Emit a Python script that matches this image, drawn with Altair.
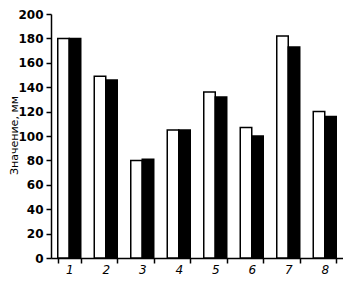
import altair as alt
import pandas as pd

categories = ["1", "2", "3", "4", "5", "6", "7", "8"]
series_white = [180, 149, 80, 105, 136, 107, 182, 120]
series_black = [180, 146, 81, 105, 132, 100, 173, 116]
y_ticks = [0, 20, 40, 60, 80, 100, 120, 140, 160, 180, 200]

rows = []
for c, w, b in zip(categories, series_white, series_black):
    rows.append({"cat": c, "s": "a", "v": w})
    rows.append({"cat": c, "s": "b", "v": b})
df = pd.DataFrame(rows)

chart = alt.Chart(df).mark_bar(stroke="black", strokeWidth=1.5).encode(
    x=alt.X("cat:N", sort=categories,
            scale=alt.Scale(paddingInner=0.37, paddingOuter=0.185),
            axis=alt.Axis(title=None, labelAngle=0, tickBand="extent",
                          labelFont="DejaVu Sans", labelFontStyle="italic",
                          labelFontSize=12, labelColor="black",
                          domainColor="black", domainWidth=1.5,
                          tickColor="black", tickWidth=1.5, tickSize=5,
                          labelPadding=1)),
    xOffset=alt.XOffset("s:N", sort=["a", "b"]),
    y=alt.Y("v:Q", scale=alt.Scale(domain=[0, 200], nice=False),
            axis=alt.Axis(title="Значение, мм", values=y_ticks, grid=False,
                          labelFont="DejaVu Sans", labelFontWeight="bold",
                          labelFontSize=12, labelColor="black",
                          titleFont="DejaVu Sans", titleFontWeight="normal",
                          titleFontSize=11, titleColor="black",
                          titleAngle=270, titleX=-32, titleY=121,
                          titleBaseline="bottom",
                          domainColor="black", domainWidth=1.5,
                          tickColor="black", tickWidth=1.5, tickSize=5,
                          labelPadding=3)),
    color=alt.Color("s:N", scale=alt.Scale(domain=["a", "b"], range=["white", "black"]),
                    legend=None),
).properties(
    width=292, height=244,
    autosize=alt.AutoSizeParams(type="none"),
    padding={"left": 43, "top": 6, "right": 0, "bottom": 20},
).configure_view(stroke=None)

chart.save("out.html", embed_options={"renderer": "svg", "actions": False})
